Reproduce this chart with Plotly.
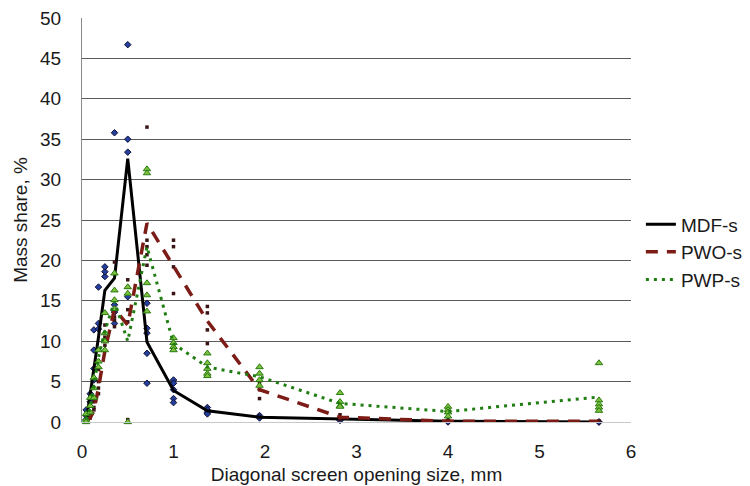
import plotly.graph_objects as go

# Diagonal screen opening sizes, mm
sizes = [0.045, 0.09, 0.13, 0.18, 0.25, 0.355, 0.5, 0.71, 1.0, 1.37, 1.94, 2.82, 4.0, 5.65]

# Mean curves (mass share, %)
mdf_mean = [0.0, 3.4, 6.2, 10.5, 16.3, 17.8, 32.6, 9.9, 3.9, 1.4, 0.6, 0.35, 0.1, 0.0]
pwo_mean = [0.1, 0.5, 1.4, 4.2, 8.8, 14.0, 12.0, 24.6, 19.3, 12.5, 4.0, 0.6, 0.1, 0.1]
pwp_mean = [0.3, 1.8, 4.5, 8.0, 11.3, 14.9, 10.0, 21.7, 9.7, 6.8, 5.6, 2.3, 1.3, 3.1]

# Replicate measurements per size
mdf_reps = [[0.3, 0.8, 1.5], [1.0, 2.5, 3.5], [5.2, 6.6, 8.9, 11.4], [12.2, 11.5, 16.7],
            [18.0, 18.6, 19.2], [35.8, 13.6, 12.2, 14.5], [46.7, 35.0, 33.4, 15.5],
            [14.7, 11.6, 11.0, 8.5, 4.8], [5.2, 4.8, 4.0, 2.9, 2.4], [1.8, 1.5, 1.2, 1.0],
            [0.8, 0.6, 0.5], [0.4, 0.3, 0.2], [0.1, 0.1, 0.0], [0.0, 0.0]]
pwo_reps = [[0.1, 0.2], [0.5, 0.8], [1.5, 1.8, 2.5], [3.5, 4.2, 5.0, 6.5],
            [9.5, 10.0, 10.5, 12.0], [19.8, 13.7, 12.6, 11.8, 13.0], [17.6, 16.7, 13.9, 12.4, 0.3],
            [36.5, 22.5, 21.7, 20.7, 19.4], [22.5, 21.7, 19.2, 15.9], [14.3, 13.5, 11.4, 9.7],
            [4.8, 4.0, 2.9], [0.9, 0.5, 0.3], [0.1, 0.2], [0.1, 0.1]]
pwp_reps = [[1.0, 0.3, 0.0], [3.0, 2.0, 1.2], [5.5, 4.2, 3.0], [8.9, 7.5, 6.8],
            [13.5, 11.0, 10.0, 8.9], [18.4, 16.3, 15.1, 14.0], [16.7, 15.9, 0.0],
            [31.3, 30.8, 17.2, 15.7, 13.7], [10.4, 9.8, 9.3, 8.9], [8.5, 7.3, 6.6, 6.0, 5.7],
            [6.8, 6.0, 5.2, 4.5], [3.6, 2.5, 2.0, 1.9], [1.9, 1.5, 1.2, 0.7],
            [7.3, 2.7, 2.2, 1.8, 1.4]]

y_ticks = [0, 5, 10, 15, 20, 25, 30, 35, 40, 45, 50]
x_ticks = [0, 1, 2, 3, 4, 5, 6]
series_names = ["MDF-s", "PWO-s", "PWP-s"]


def flatten(reps):
    xs, ys = [], []
    for s, vals in zip(sizes, reps):
        for v in vals:
            xs.append(s)
            ys.append(v)
    return xs, ys


FONT = "Arial, Liberation Sans, sans-serif"
fig = go.Figure()

styles = [
    dict(reps=mdf_reps, mean=mdf_mean, lc="#000000", lw=3, dash="solid",
         marker=dict(symbol="diamond", size=5, color="#243f9e", line=dict(color="#101035", width=1))),
    dict(reps=pwo_reps, mean=pwo_mean, lc="#7d1c16", lw=3.5, dash="12px,9px",
         marker=dict(symbol="square", size=3.5, color="#3a1414", line=dict(width=0))),
    dict(reps=pwp_reps, mean=pwp_mean, lc="#1f7d12", lw=3, dash="3px,5px",
         marker=dict(symbol="triangle-up", size=6.5, color="#7cc23e", line=dict(color="#2a7a10", width=1))),
]

for name, st in zip(series_names, styles):
    xs, ys = flatten(st["reps"])
    fig.add_trace(go.Scatter(x=xs, y=ys, mode="markers", marker=st["marker"],
                             showlegend=False, cliponaxis=False, hoverinfo="skip"))
    fig.add_trace(go.Scatter(x=sizes, y=st["mean"], mode="lines", name=name,
                             line=dict(color=st["lc"], width=st["lw"], dash=st["dash"]),
                             cliponaxis=False))

fig.update_layout(
    width=750, height=486, autosize=False,
    margin=dict(l=82, r=119, t=18, b=64, autoexpand=False),
    paper_bgcolor="white", plot_bgcolor="white",
    font=dict(family=FONT, size=19, color="#1a1a1a"),
    legend=dict(x=1.018, xanchor="left", y=0.42, yanchor="middle",
                font=dict(size=19), bgcolor="rgba(0,0,0,0)", itemwidth=30,
                tracegroupgap=0),
    xaxis=dict(range=[0, 6], tickmode="array", tickvals=x_ticks, showgrid=False, zeroline=False,
               showline=True, linecolor="#c8c8c8", linewidth=1, automargin=False,
               ticks="", ticklabelstandoff=12,
               title=dict(text="Diagonal screen opening size, mm", standoff=6,
                          font=dict(size=19))),
    yaxis=dict(range=[0, 50], tickmode="array", tickvals=y_ticks,
               showgrid=True, gridcolor="#5a5a5a", gridwidth=1,
               zeroline=False, showline=True, linecolor="#8a8a8a", linewidth=1,
               automargin=False, ticks="", ticklabelstandoff=16,
               title=dict(text="Mass share, %", standoff=7, font=dict(size=19))),
)

# Remove the default 8px page margin so the figure sits at the window's top-left corner
fig.write_html("out.html", config={"displayModeBar": False},
               post_script="document.body.style.margin='0px';document.body.style.overflow='hidden';")
